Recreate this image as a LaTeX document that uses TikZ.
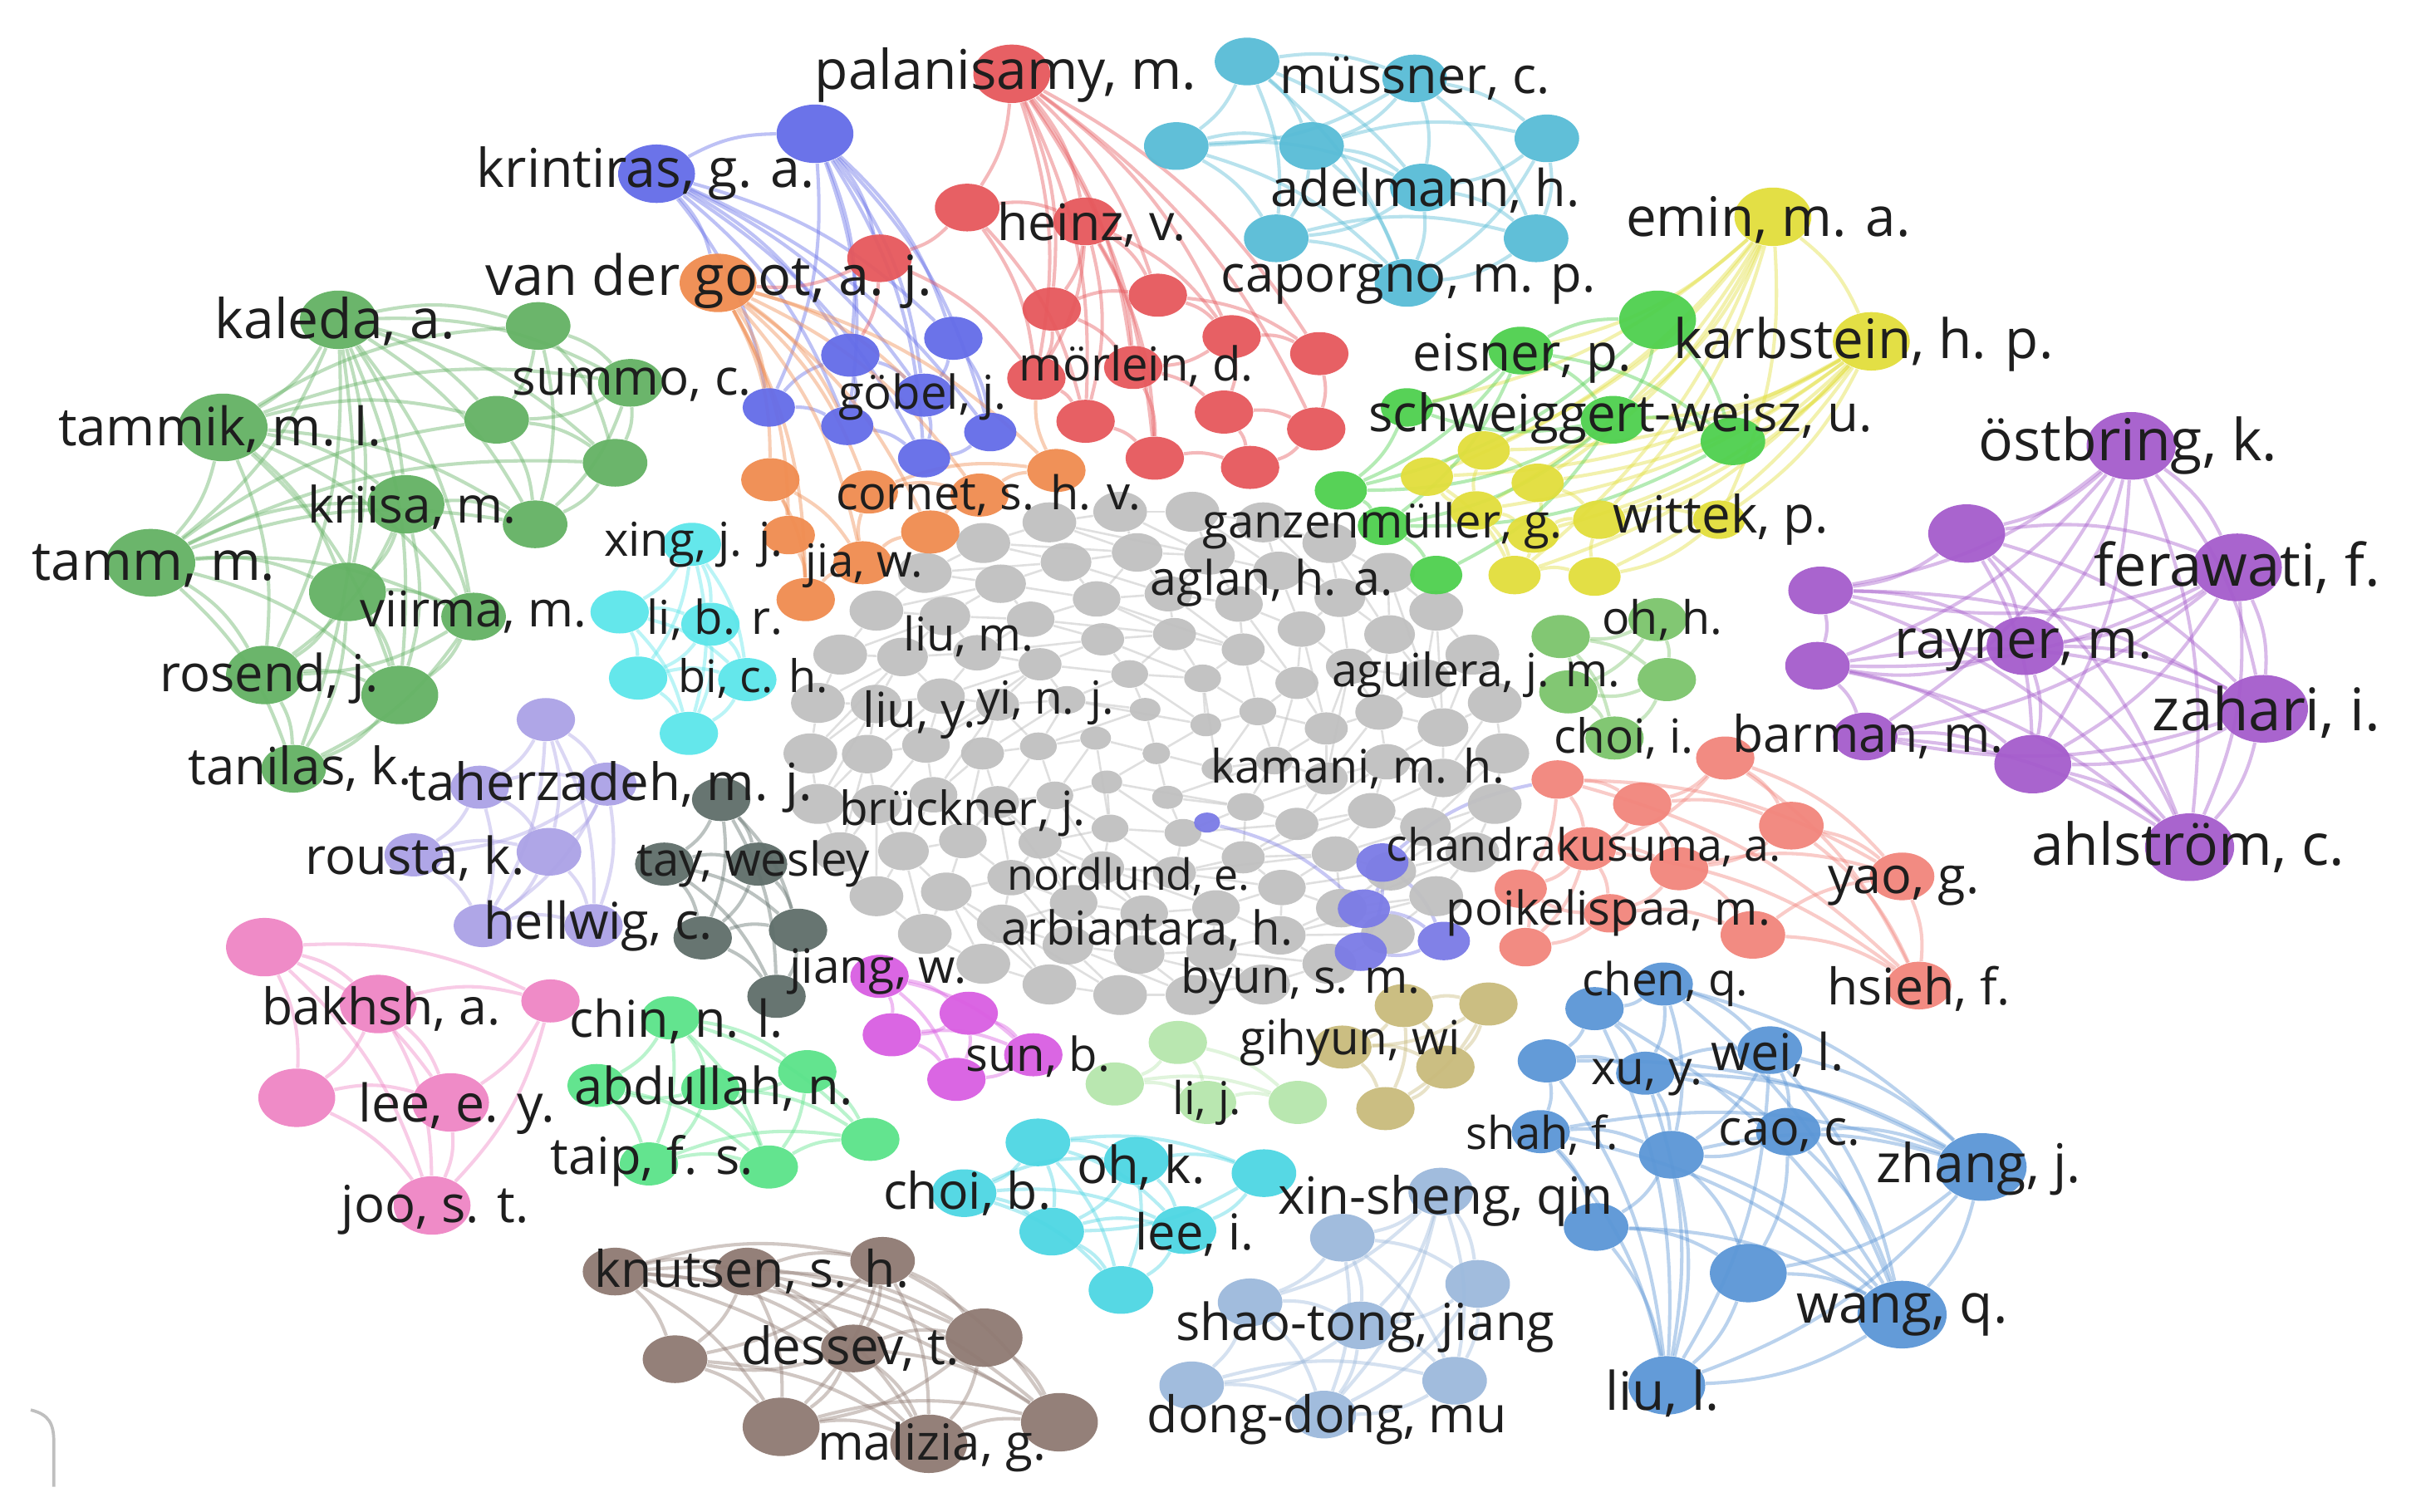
\documentclass[tikz,border=0pt]{standalone}
\usepackage{fontspec}
\setmainfont{Open Sans}
\usetikzlibrary{shapes.geometric}
\pgfdeclarelayer{bg}
\pgfdeclarelayer{paper}
\pgfsetlayers{paper,bg,main}
\definecolor{cG}{RGB}{100,178,100}
\definecolor{cB}{RGB}{100,108,232}
\definecolor{cO}{RGB}{240,140,80}
\definecolor{cR}{RGB}{230,88,92}
\definecolor{cE}{RGB}{88,188,214}
\definecolor{cY}{RGB}{226,222,60}
\definecolor{cGG}{RGB}{78,208,78}
\definecolor{cH}{RGB}{124,196,108}
\definecolor{cI}{RGB}{165,92,204}
\definecolor{cJ}{RGB}{242,133,124}
\definecolor{cK}{RGB}{123,123,230}
\definecolor{cL}{RGB}{91,150,214}
\definecolor{cM}{RGB}{156,185,220}
\definecolor{cN}{RGB}{77,214,227}
\definecolor{cBr}{RGB}{143,122,114}
\definecolor{cP}{RGB}{239,133,196}
\definecolor{cQ}{RGB}{171,162,230}
\definecolor{cS}{RGB}{95,110,106}
\definecolor{cMg}{RGB}{217,94,226}
\definecolor{cT}{RGB}{182,230,172}
\definecolor{cU}{RGB}{201,187,124}
\definecolor{cV}{RGB}{92,230,234}
\definecolor{cW}{RGB}{91,227,138}
\definecolor{cGr}{RGB}{192,192,192}
\definecolor{txt}{RGB}{30,30,30}
\tikzset{
  nd/.style={ellipse, draw=none, fill=#1, inner sep=0pt, fill opacity=0.95},
  s1/.style={minimum width=13pt, minimum height=10pt},
  s2/.style={minimum width=17pt, minimum height=12.5pt},
  s2h/.style={minimum width=19pt, minimum height=14pt},
  s3/.style={minimum width=21pt, minimum height=15.5pt},
  s4/.style={minimum width=25pt, minimum height=19pt},
  s5/.style={minimum width=29pt, minimum height=22pt},
  ed/.style={draw=#1, line width=1.1pt, draw opacity=0.42, bend left=14},
  edg/.style={draw=cGr, line width=0.7pt, draw opacity=0.5},
  lb/.style={font=\fontsize{#1}{#1}\selectfont, text=txt, inner sep=0pt}
}
\begin{document}
\begin{tikzpicture}[x=0.5pt,y=-0.5pt]
\begin{pgfonlayer}{paper}
\fill[white] (0,0) rectangle (1568,983);
\end{pgfonlayer}
\useasboundingbox (0,0) rectangle (1568,983);

% ---------------- gray central cluster
\foreach \kk/\nn/\aa/\bb/\ww/\hh/\oo in {1/30/225/158/17.5/13/0, 2/25/188/131/16.5/12.5/7, 3/20/150/104/15.5/11.5/3, 4/15/113/78/14/10.5/12, 5/10/77/53/12/9/5, 6/6/42/29/10/7.5/20}{
  \foreach \ii in {1,...,\nn}{
    \node[nd=cGr, minimum width=\ww pt, minimum height=\hh pt] (gr-\kk-\ii) at ({752+\aa*cos(\ii*360/\nn+\oo)},{490+\bb*sin(\ii*360/\nn+\oo)}) {};
  }
}
\node[nd=cGr, minimum width=9pt, minimum height=7pt] (gr-7-1) at (752,490) {};

% ---------------- dark green
\node[nd=cG,s4] (kal) at (220,208) {};
\node[nd=cG,s3] (gA) at (350,212) {};
\node[nd=cG,s3] (sum) at (410,249) {};
\node[nd=cG,s3] (gB) at (323,273) {};
\node[nd=cG,s3] (gC) at (400,301) {};
\node[nd=cG,s3] (gD) at (348,341) {};
\node[nd=cG,s5] (tmk) at (145,278) {};
\node[nd=cG,s4] (kri) at (264,328) {};
\node[nd=cG,s5] (tam) at (98,366) {};
\node[nd=cG,s4] (gE) at (226,385) {};
\node[nd=cG,s3] (vii) at (308,401) {};
\node[nd=cG,s4] (ros) at (172,439) {};
\node[nd=cG,s4] (gF) at (260,452) {};
\node[nd=cG,s3] (tan) at (191,500) {};
% ---------------- blue
\node[nd=cB,s4] (krn) at (427,113) {};
\node[nd=cB,s4] (bT) at (530,87) {};
\node[nd=cB,s2] (bA3) at (500,265) {};
\node[nd=cB,s2h] (bA4) at (553,231) {};
\node[nd=cB,s2h] (bA5) at (620,220) {};
\node[nd=cB,s2h] (gob) at (601,257) {};
\node[nd=cB,s2] (bA7) at (551,277) {};
\node[nd=cB,s2] (bA8) at (644,281) {};
\node[nd=cB,s2] (bA9) at (601,298) {};
% ---------------- orange
\node[nd=cO,s4] (vdg) at (467,184) {};
\node[nd=cO,s2h] (oA) at (501,312) {};
\node[nd=cO,s2] (oB) at (513,348) {};
\node[nd=cO,s2h] (oC) at (524,390) {};
\node[nd=cO,s2h] (jia) at (561,366) {};
\node[nd=cO,s2h] (oD) at (605,346) {};
\node[nd=cO,s2h] (oE) at (565,320) {};
\node[nd=cO,s2h] (cor) at (637,322) {};
\node[nd=cO,s2h] (oF) at (687,306) {};
% ---------------- red
\node[nd=cR,s4] (pal) at (658,48) {};
\node[nd=cR,s3] (rA) at (629,135) {};
\node[nd=cR,s3] (hei) at (706,144) {};
\node[nd=cR,s3] (rB) at (572,168) {};
\node[nd=cR,s2h] (rC) at (684,201) {};
\node[nd=cR,s2h] (rD) at (753,192) {};
\node[nd=cR,s2h] (rE) at (801,219) {};
\node[nd=cR,s2h] (rF) at (858,230) {};
\node[nd=cR,s2h] (mor) at (737,239) {};
\node[nd=cR,s2h] (rG) at (674,246) {};
\node[nd=cR,s2h] (rH) at (706,274) {};
\node[nd=cR,s2h] (rI) at (796,268) {};
\node[nd=cR,s2h] (rJ) at (856,279) {};
\node[nd=cR,s2h] (rK) at (751,298) {};
\node[nd=cR,s2h] (rL) at (813,304) {};
% ---------------- light blue top
\node[nd=cE,s3] (eA) at (811,40) {};
\node[nd=cE,s3] (mus) at (920,51) {};
\node[nd=cE,s3] (eB) at (765,95) {};
\node[nd=cE,s3] (eC) at (853,95) {};
\node[nd=cE,s3] (eD) at (1006,90) {};
\node[nd=cE,s3] (ade) at (925,122) {};
\node[nd=cE,s3] (eE) at (830,155) {};
\node[nd=cE,s3] (eF) at (999,155) {};
\node[nd=cE,s3] (cap) at (915,184) {};
% ---------------- yellow
\node[nd=cY,s4] (emi) at (1153,141) {};
\node[nd=cY,s4] (kar) at (1217,222) {};
\node[nd=cY,s2] (yA) at (928,310) {};
\node[nd=cY,s2] (yB) at (965,293) {};
\node[nd=cY,s2] (yC) at (1000,314) {};
\node[nd=cY,s2] (yD) at (997,347) {};
\node[nd=cY,s2] (yE) at (1040,338) {};
\node[nd=cY,s2] (yF) at (985,374) {};
\node[nd=cY,s2] (yG) at (1037,375) {};
\node[nd=cY,s2] (yH) at (960,332) {};
\node[nd=cY,s2] (wit) at (1118,338) {};
% ---------------- bright green
\node[nd=cGG,s3] (eis) at (989,228) {};
\node[nd=cGG,s4] (gX) at (1078,208) {};
\node[nd=cGG,s3] (sch) at (1049,273) {};
\node[nd=cGG,s3] (gY) at (1127,287) {};
\node[nd=cGG,s2] (gZ) at (915,265) {};
\node[nd=cGG,s2] (gW) at (872,319) {};
\node[nd=cGG,s2] (gan) at (900,342) {};
\node[nd=cGG,s2] (gV) at (934,374) {};
% ---------------- olive green
\node[nd=cH,s2h] (ohh) at (1078,403) {};
\node[nd=cH,s2h] (hA) at (1015,414) {};
\node[nd=cH,s2h] (hB) at (1084,442) {};
\node[nd=cH,s2h] (hC) at (1020,450) {};
\node[nd=cH,s2h] (chi) at (1050,480) {};
% ---------------- purple
\node[nd=cI,s5] (ost) at (1386,290) {};
\node[nd=cI,s4] (iA) at (1279,347) {};
\node[nd=cI,s5] (fer) at (1455,369) {};
\node[nd=cI,s3] (iB) at (1184,384) {};
\node[nd=cI,s4] (ray) at (1317,420) {};
\node[nd=cI,s3] (iC) at (1182,433) {};
\node[nd=cI,s5] (zah) at (1472,461) {};
\node[nd=cI,s3] (bar) at (1213,479) {};
\node[nd=cI,s4] (iD) at (1322,497) {};
\node[nd=cI,s5] (ahl) at (1424,551) {};
% ---------------- salmon
\node[nd=cJ,s2h] (jA) at (1122,493) {};
\node[nd=cJ,s2] (jB) at (1013,507) {};
\node[nd=cJ,s2h] (jC) at (1068,523) {};
\node[nd=cJ,s3] (jD) at (1165,537) {};
\node[nd=cJ,s2h] (cha) at (1032,552) {};
\node[nd=cJ,s2h] (jE) at (1092,565) {};
\node[nd=cJ,s2] (poi) at (1047,594) {};
\node[nd=cJ,s3] (jF) at (1140,608) {};
\node[nd=cJ,s3] (yao) at (1237,570) {};
\node[nd=cJ,s3] (hsi) at (1248,641) {};
\node[nd=cJ,s2] (jG) at (989,578) {};
\node[nd=cJ,s2] (jH) at (992,616) {};
% ---------------- blue-purple small
\node[nd=cK,s2] (kA) at (899,561) {};
\node[nd=cK,s2] (kB) at (887,591) {};
\node[nd=cK,s2] (kC) at (939,612) {};
\node[nd=cK,s2] (kD) at (885,619) {};
\node[nd=cK,minimum width=8.5pt,minimum height=6.5pt] (kT) at (785,535) {};
% ---------------- steel blue
\node[nd=cL,s2h] (chq) at (1082,640) {};
\node[nd=cL,s2h] (lA) at (1037,656) {};
\node[nd=cL,s2h] (lB) at (1006,690) {};
\node[nd=cL,s2h] (xuy) at (1070,698) {};
\node[nd=cL,s3] (wei) at (1151,683) {};
\node[nd=cL,s2h] (sha) at (1002,736) {};
\node[nd=cL,s3] (cao) at (1163,736) {};
\node[nd=cL,s3] (lC) at (1087,751) {};
\node[nd=cL,s5] (zha) at (1289,759) {};
\node[nd=cL,s3] (lD) at (1038,798) {};
\node[nd=cL,s4] (lE) at (1137,828) {};
\node[nd=cL,s5] (wan) at (1237,855) {};
\node[nd=cL,s4] (liu) at (1084,901) {};
% ---------------- light steel blue
\node[nd=cM,s3] (xin) at (937,775) {};
\node[nd=cM,s3] (mA) at (873,805) {};
\node[nd=cM,s3] (mB) at (961,835) {};
\node[nd=cM,s3] (mC) at (813,847) {};
\node[nd=cM,s3] (sht) at (885,862) {};
\node[nd=cM,s3] (mD) at (775,901) {};
\node[nd=cM,s3] (mE) at (946,898) {};
\node[nd=cM,s3] (dd) at (861,920) {};
% ---------------- cyan
\node[nd=cN,s3] (nA) at (675,743) {};
\node[nd=cN,s3] (chb) at (627,776) {};
\node[nd=cN,s3] (ohk) at (739,755) {};
\node[nd=cN,s3] (nB) at (822,763) {};
\node[nd=cN,s3] (nC) at (684,801) {};
\node[nd=cN,s3] (lei) at (770,800) {};
\node[nd=cN,s3] (nD) at (729,839) {};
% ---------------- brown
\node[nd=cBr,s3] (bA) at (400,827) {};
\node[nd=cBr,s3] (knu) at (486,827) {};
\node[nd=cBr,s3] (bB) at (574,820) {};
\node[nd=cBr,s3] (des) at (555,877) {};
\node[nd=cBr,s4] (bC) at (640,870) {};
\node[nd=cBr,s3] (bD) at (439,884) {};
\node[nd=cBr,s4] (bE) at (508,928) {};
\node[nd=cBr,s4] (mal) at (604,939) {};
\node[nd=cBr,s4] (bF) at (689,925) {};
% ---------------- pink
\node[nd=cP,s4] (pA) at (172,616) {};
\node[nd=cP,s4] (bak) at (246,653) {};
\node[nd=cP,s2h] (pB) at (358,651) {};
\node[nd=cP,s4] (pC) at (193,714) {};
\node[nd=cP,s4] (lee) at (293,717) {};
\node[nd=cP,s4] (joo) at (281,784) {};
% ---------------- lavender
\node[nd=cQ,s2h] (qA) at (355,468) {};
\node[nd=cQ,s2h] (qB) at (312,512) {};
\node[nd=cQ,s2h] (thz) at (395,510) {};
\node[nd=cQ,s2h] (rou) at (269,556) {};
\node[nd=cQ,s3] (qC) at (357,554) {};
\node[nd=cQ,s2h] (qD) at (314,602) {};
\node[nd=cQ,s2h] (hel) at (386,602) {};
% ---------------- dark slate
\node[nd=cS,s2h] (sA) at (469,520) {};
\node[nd=cS,s2h] (sB) at (432,562) {};
\node[nd=cS,s2h] (tay) at (493,562) {};
\node[nd=cS,s2h] (sC) at (457,610) {};
\node[nd=cS,s2h] (sD) at (519,605) {};
\node[nd=cS,s2h] (sE) at (505,648) {};
% ---------------- magenta
\node[nd=cMg,s2h] (jw) at (572,635) {};
\node[nd=cMg,s2h] (mgA) at (630,659) {};
\node[nd=cMg,s2h] (mgB) at (580,673) {};
\node[nd=cMg,s2h] (sun) at (672,686) {};
\node[nd=cMg,s2h] (mgC) at (622,702) {};
% ---------------- pale green
\node[nd=cT,s2h] (tA) at (766,678) {};
\node[nd=cT,s2h] (tB) at (725,705) {};
\node[nd=cT,s2h] (lij) at (785,717) {};
\node[nd=cT,s2h] (tC) at (844,717) {};
% ---------------- khaki
\node[nd=cU,s2h] (uA) at (913,654) {};
\node[nd=cU,s2h] (uB) at (968,653) {};
\node[nd=cU,s2h] (gih) at (873,681) {};
\node[nd=cU,s2h] (uC) at (940,694) {};
\node[nd=cU,s2h] (uD) at (901,721) {};
% ---------------- teal
\node[nd=cV,s2h] (xng) at (450,354) {};
\node[nd=cV,s2h] (vA) at (403,398) {};
\node[nd=cV,s2h] (lib) at (462,406) {};
\node[nd=cV,s2h] (vB) at (415,441) {};
\node[nd=cV,s2h] (bic) at (486,442) {};
\node[nd=cV,s2h] (vC) at (448,477) {};
% ---------------- emerald
\node[nd=cW,s2h] (chn) at (436,662) {};
\node[nd=cW,s2h] (wA) at (525,697) {};
\node[nd=cW,s2h] (abd) at (462,708) {};
\node[nd=cW,s2h] (wB) at (388,706) {};
\node[nd=cW,s2h] (tai) at (422,757) {};
\node[nd=cW,s2h] (wC) at (500,759) {};
\node[nd=cW,s2h] (wD) at (566,741) {};

% ================= edges
\begin{pgfonlayer}{bg}
\foreach \kk/\nn/\mm in {1/30/25, 2/25/20, 3/20/15, 4/15/10, 5/10/6}{
  \foreach \ii in {1,...,\nn}{
    \pgfmathtruncatemacro\nx{mod(\ii,\nn)+1}
    \pgfmathtruncatemacro\jj{mod(round(\ii*\mm/\nn)-1+\mm,\mm)+1}
    \pgfmathtruncatemacro\jk{mod(\jj,\mm)+1}
    \pgfmathtruncatemacro\kn{\kk+1}
    \draw[edg] (gr-\kk-\ii) -- (gr-\kk-\nx);
    \draw[edg] (gr-\kk-\ii) -- (gr-\kn-\jj);
    \draw[edg] (gr-\kk-\ii) -- (gr-\kn-\jk);
  }
}
\foreach \ii in {1,...,6} \draw[edg] (gr-6-\ii) -- (gr-7-1);

\foreach \u/\v in {kal/gA, kal/sum, kal/gB, kal/gC, kal/gD, kal/tmk, kal/kri, kal/tam, kal/gE, kal/vii, kal/ros, kal/gF, kal/tan, tmk/gA, tmk/gB, tmk/kri, tmk/tam, tmk/gE, tmk/vii, tmk/ros, tmk/gF, tmk/gD, tmk/sum, tam/kri, tam/gE, tam/vii, tam/ros, tam/gF, tam/tan, tam/gB, tam/gD, tam/gC, kri/gE, kri/vii, kri/ros, kri/gF, kri/gD, gA/sum, gA/gB, gA/gC, gA/gD, sum/gB, sum/gC, sum/gD, gB/gC, gB/gD, gC/gD, gE/vii, gE/ros, gE/gF, gE/tan, vii/ros, vii/gF, vii/tan, ros/gF, ros/tan, gF/tan}
  \draw[ed=cG] (\u) to (\v);
\foreach \u/\v in {krn/bT, krn/bA3, krn/bA4, krn/bA5, krn/gob, krn/bA7, krn/bA8, krn/bA9, bT/bA3, bT/bA4, bT/bA5, bT/gob, bT/bA7, bT/bA8, bT/bA9, bA4/gob, bA4/bA7, bA5/gob, bA5/bA8, gob/bA9, bA7/bA9, bA8/bA9, bA3/bA7, bA3/bA4, krn/vdg, bT/rB}
  \draw[ed=cB] (\u) to (\v);
\foreach \u/\v in {vdg/oA, vdg/oB, vdg/oC, vdg/jia, vdg/oD, vdg/oE, vdg/cor, vdg/oF, oA/oB, oA/oC, oB/oC, oC/jia, jia/oD, jia/oE, oE/cor, oD/cor, cor/oF, oE/oF, oA/jia, vdg/bA3, vdg/gob, vdg/bA7, oF/rG}
  \draw[ed=cO] (\u) to (\v);
\foreach \u/\v in {pal/rA, pal/hei, pal/rC, pal/rD, pal/rE, pal/rF, pal/mor, pal/rG, pal/rH, pal/rK, pal/rJ, rA/rB, rA/hei, rA/rG, rA/rH, rB/rG, hei/rC, hei/rD, hei/mor, hei/rG, hei/rE, hei/rK, hei/rH, rC/rD, rC/mor, rC/rG, rD/rE, rE/rF, rE/mor, rE/rI, rF/rJ, mor/rI, mor/rK, rG/rH, rH/rK, rI/rL, rJ/rL, rK/rL, rI/rJ, rD/rF, rB/vdg, rB/bA4}
  \draw[ed=cR] (\u) to (\v);
\foreach \u/\v in {eA/mus, eA/eB, eA/eC, eA/ade, eA/eE, eA/cap, mus/eC, mus/eD, mus/ade, mus/eF, mus/eB, eB/eC, eB/eE, eB/ade, eB/cap, eC/ade, eC/eE, eC/cap, eC/eD, eD/ade, eD/eF, eD/cap, ade/eE, ade/eF, ade/cap, eE/cap, eF/cap, eE/eF}
  \draw[ed=cE] (\u) to (\v);
\foreach \u/\v in {emi/kar, emi/yA, emi/yB, emi/yC, emi/yE, emi/wit, emi/yF, emi/yH, emi/eis, emi/sch, emi/gZ, kar/yA, kar/yB, kar/yC, kar/yD, kar/yE, kar/wit, kar/yG, kar/yF, kar/yH, kar/sch, kar/gY, yA/yB, yB/yC, yC/yD, yD/yE, yE/wit, yD/yF, yF/yG, yG/yE, yA/yF, yC/yE, wit/yG, yH/yA, yH/yB, yH/yD, yH/yF}
  \draw[ed=cY] (\u) to (\v);
\foreach \u/\v in {eis/gX, eis/sch, eis/gY, eis/gZ, eis/gW, eis/gan, gX/sch, gX/gY, sch/gY, sch/gZ, sch/gW, sch/gan, sch/gV, gZ/gW, gW/gan, gan/gV, gY/gan, gX/gW}
  \draw[ed=cGG] (\u) to (\v);
\foreach \u/\v in {ohh/hA, ohh/hB, ohh/hC, hA/hB, hA/hC, hB/hC, hB/chi, hC/chi, hA/chi}
  \draw[ed=cH] (\u) to (\v);
\foreach \u/\v in {ost/iA, ost/fer, ost/iB, ost/ray, ost/iC, ost/zah, ost/bar, ost/iD, ost/ahl, iA/fer, iA/iB, iA/ray, iA/zah, iA/iD, iA/ahl, fer/ray, fer/iB, fer/iC, fer/zah, fer/iD, fer/ahl, fer/bar, iB/iC, iB/ray, iB/zah, iB/ahl, ray/iC, ray/zah, ray/iD, ray/ahl, iC/bar, iC/zah, iC/ahl, zah/bar, zah/iD, zah/ahl, bar/iD, bar/ahl, iD/ahl, iC/iD}
  \draw[ed=cI] (\u) to (\v);
\foreach \u/\v in {jA/jC, jA/jD, jA/cha, jA/yao, jA/hsi, jB/jC, jB/cha, jB/jG, jC/cha, jC/jD, jC/jE, jD/jE, jD/yao, jD/hsi, cha/jE, cha/poi, cha/jG, cha/jH, jE/poi, jE/jF, jE/yao, poi/jF, poi/jG, poi/jH, jF/hsi, jF/yao, yao/hsi, jG/jH, jB/yao, cha/hsi, jB/hsi}
  \draw[ed=cJ] (\u) to (\v);
\foreach \u/\v in {kA/kB, kA/kC, kA/kD, kB/kC, kB/kD, kC/kD, kT/kB, kA/jB}
  \draw[ed=cK] (\u) to (\v);
\foreach \u/\v in {chq/lA, chq/xuy, chq/wei, chq/zha, chq/lC, chq/wan, lA/lB, lA/xuy, lA/wan, lB/xuy, lB/sha, lB/liu, lB/zha, xuy/wei, xuy/lC, xuy/cao, xuy/liu, xuy/zha, wei/cao, wei/lC, wei/zha, wei/wan, wei/liu, sha/lC, sha/lD, sha/zha, sha/wan, cao/lC, cao/lE, cao/zha, cao/wan, lC/lD, lC/lE, lC/wan, lC/zha, lC/liu, zha/wan, zha/lE, zha/liu, lD/lE, lD/liu, lD/wan, lE/wan, lE/liu, wan/liu, sha/liu, lA/liu}
  \draw[ed=cL] (\u) to (\v);
\foreach \u/\v in {xin/mA, xin/mB, xin/sht, xin/mE, xin/dd, xin/mC, mA/mB, mA/mC, mA/sht, mA/mE, mA/dd, mB/sht, mB/mE, mB/dd, mC/sht, mC/mD, mC/dd, sht/mD, sht/mE, sht/dd, mD/dd, mE/dd, mD/mE}
  \draw[ed=cM] (\u) to (\v);
\foreach \u/\v in {nA/chb, nA/ohk, nA/nB, nA/nC, nA/lei, nA/nD, chb/ohk, chb/nC, chb/lei, chb/nD, ohk/nB, ohk/nC, ohk/lei, ohk/nD, nB/nC, nB/lei, nC/lei, nC/nD, lei/nD}
  \draw[ed=cN] (\u) to (\v);
\foreach \u/\v in {bA/knu, bA/bB, bA/des, bA/bC, bA/bD, bA/bE, bA/mal, bA/bF, knu/bB, knu/des, knu/bC, knu/bD, knu/bE, knu/mal, knu/bF, bB/des, bB/bC, bB/bD, bB/bE, bB/mal, bB/bF, des/bC, des/bD, des/bE, des/mal, des/bF, bC/bE, bC/mal, bC/bF, bD/bE, bD/mal, bE/mal, bE/bF, mal/bF}
  \draw[ed=cBr] (\u) to (\v);
\foreach \u/\v in {pA/bak, pA/pB, pA/pC, pA/lee, pA/joo, bak/pB, bak/pC, bak/lee, bak/joo, pB/lee, pB/joo, pC/lee, pC/joo, lee/joo}
  \draw[ed=cP] (\u) to (\v);
\foreach \u/\v in {qA/qB, qA/thz, qA/qC, qA/hel, qA/qD, qB/thz, qB/rou, qB/qC, qB/qD, thz/qC, thz/hel, thz/rou, thz/qD, rou/qC, rou/qD, qC/qD, qC/hel, qD/hel}
  \draw[ed=cQ] (\u) to (\v);
\foreach \u/\v in {sA/sB, sA/tay, sA/sC, sA/sD, sA/sE, sB/tay, sB/sC, sB/sD, sB/sE, tay/sC, tay/sD, sC/sD, sC/sE, sD/sE}
  \draw[ed=cS] (\u) to (\v);
\foreach \u/\v in {jw/mgA, jw/mgB, jw/sun, jw/mgC, mgA/mgB, mgA/sun, mgA/mgC, mgB/mgC, mgB/sun, sun/mgC}
  \draw[ed=cMg] (\u) to (\v);
\foreach \u/\v in {tA/tB, tA/lij, tA/tC, tB/lij, lij/tC, tB/tC}
  \draw[ed=cT] (\u) to (\v);
\foreach \u/\v in {uA/uB, uA/gih, uA/uC, uA/uD, uB/uC, uB/uD, gih/uC, gih/uD, uC/uD, uB/gih}
  \draw[ed=cU] (\u) to (\v);
\foreach \u/\v in {xng/vA, xng/lib, xng/vB, xng/bic, xng/vC, vA/lib, vA/vB, vA/bic, vA/vC, lib/vB, lib/bic, lib/vC, vB/bic, vB/vC, bic/vC}
  \draw[ed=cV] (\u) to (\v);
\foreach \u/\v in {chn/wA, chn/abd, chn/wB, chn/tai, chn/wC, chn/wD, wA/abd, wA/wC, wA/wD, abd/wB, abd/tai, abd/wC, abd/wD, wB/tai, wB/wC, tai/wC, wC/wD, tai/wD}
  \draw[ed=cW] (\u) to (\v);
\end{pgfonlayer}

% ================= labels
\node[lb=17.8] (L-kal) at (218,209) {kaleda, a.};
\node[lb=16.2] (L-sum) at (411,250) {summo, c.};
\node[lb=17.2] (L-tmk) at (143,279) {tammik, m. l.};
\node[lb=16.3] (L-kri) at (268,330) {kriisa, m.};
\node[lb=17.7] (L-tam) at (100,368) {tamm, m.};
\node[lb=16.0] (L-vii) at (308,398) {viirma, m.};
\node[lb=16.6] (L-ros) at (175,441) {rosend, j.};
\node[lb=16.7] (L-tan) at (195,500) {tanilas, k.};
\node[lb=17.4] (L-krn) at (420,113) {krintiras, g. a.};
\node[lb=15.2] (L-gob) at (600,258) {göbel, j.};
\node[lb=18.0] (L-vdg) at (461,183) {van der goot, a. j.};
\node[lb=15.1] (L-cor) at (643,322) {cornet, s. h. v.};
\node[lb=14.8] (L-jia) at (562,368) {jia, w.};
\node[lb=17.8] (L-pal) at (654,49) {palanisamy, m.};
\node[lb=16.4] (L-hei) at (710,146) {heinz, v.};
\node[lb=15.2] (L-mor) at (739,238) {mörlein, d.};
\node[lb=16.5] (L-mus) at (920,51) {müssner, c.};
\node[lb=16.5] (L-ade) at (927,124) {adelmann, h.};
\node[lb=16.6] (L-cap) at (916,185) {caporgno, m. p.};
\node[lb=17.7] (L-emi) at (1150,143) {emin, m. a.};
\node[lb=17.7] (L-kar) at (1212,224) {karbstein, h. p.};
\node[lb=16.7] (L-wit) at (1119,338) {wittek, p.};
\node[lb=16.7] (L-eis) at (990,233) {eisner, p.};
\node[lb=16.7] (L-sch) at (1054,272) {schweiggert-weisz, u.};
\node[lb=15.2] (L-gan) at (899,342) {ganzenmüller, g.};
\node[lb=15.0] (L-ohh) at (1081,403) {oh, h.};
\node[lb=15.3] (L-chi) at (1056,480) {choi, i.};
\node[lb=18.8] (L-ost) at (1384,290) {östbring, k.};
\node[lb=19.0] (L-fer) at (1455,369) {ferawati, f.};
\node[lb=17.7] (L-ray) at (1316,423) {rayner, m.};
\node[lb=19.1] (L-zah) at (1474,463) {zahari, i.};
\node[lb=16.4] (L-bar) at (1215,479) {barman, m.};
\node[lb=18.8] (L-ahl) at (1423,551) {ahlström, c.};
\node[lb=14.5] (L-cha) at (1030,551) {chandrakusuma, a.};
\node[lb=15.2] (L-poi) at (1046,594) {poikelispaa, m.};
\node[lb=16.5] (L-yao) at (1238,576) {yao, g.};
\node[lb=16.4] (L-hsi) at (1248,643) {hsieh, f.};
\node[lb=14.8] (L-chq) at (1083,640) {chen, q.};
\node[lb=15.3] (L-xuy) at (1071,701) {xu, y.};
\node[lb=16.5] (L-wei) at (1156,686) {wei, l.};
\node[lb=14.7] (L-sha) at (1003,738) {shah, f.};
\node[lb=16.0] (L-cao) at (1164,738) {cao, c.};
\node[lb=17.4] (L-zha) at (1287,760) {zhang, j.};
\node[lb=17.7] (L-wan) at (1237,855) {wang, q.};
\node[lb=17.3] (L-liu) at (1081,906) {liu, l.};
\node[lb=16.7] (L-xin) at (940,781) {xin-sheng, qin};
\node[lb=16.6] (L-sht) at (888,863) {shao-tong, jiang};
\node[lb=16.4] (L-dd) at (863,923) {dong-dong, mu};
\node[lb=16.4] (L-chb) at (629,776) {choi, b.};
\node[lb=16.6] (L-ohk) at (742,759) {oh, k.};
\node[lb=16.1] (L-lei) at (777,803) {lee, i.};
\node[lb=16.4] (L-knu) at (489,827) {knutsen, s. h.};
\node[lb=16.7] (L-des) at (553,877) {dessev, t.};
\node[lb=16.2] (L-mal) at (606,941) {malizia, g.};
\node[lb=16.4] (L-bak) at (248,656) {bakhsh, a.};
\node[lb=16.9] (L-lee) at (297,721) {lee, e. y.};
\node[lb=16.6] (L-joo) at (283,787) {joo, s. t.};
\node[lb=16.7] (L-thz) at (397,512) {taherzadeh, m. j.};
\node[lb=16.6] (L-rou) at (270,558) {rousta, k.};
\node[lb=16.5] (L-hel) at (389,602) {hellwig, c.};
\node[lb=15.2] (L-tay) at (490,562) {tay, wesley};
\node[lb=15.4] (L-jw) at (571,632) {jiang, w.};
\node[lb=15.2] (L-sun) at (675,687) {sun, b.};
\node[lb=14.7] (L-lij) at (785,717) {li, j.};
\node[lb=15.3] (L-gih) at (878,678) {gihyun, wi};
\node[lb=15.2] (L-xng) at (451,354) {xing, j. j.};
\node[lb=15.2] (L-lib) at (465,403) {li, b. r.};
\node[lb=14.6] (L-bic) at (490,441) {bi, c. h.};
\node[lb=16.5] (L-chn) at (440,664) {chin, n. l.};
\node[lb=16.6] (L-abd) at (464,708) {abdullah, n.};
\node[lb=16.6] (L-tai) at (424,755) {taip, f. s.};
\node[lb=15.5] (L-agl) at (827,379) {aglan, h. a.};
\node[lb=15.1] (L-lim) at (630,414) {liu, m.};
\node[lb=14.9] (L-agu) at (960,439) {aguilera, j. m.};
\node[lb=15.7] (L-liy) at (598,465) {liu, y.};
\node[lb=14.8] (L-yi) at (680,457) {yi, n. j.};
\node[lb=15.0] (L-kam) at (883,500) {kamani, m. h.};
\node[lb=15.3] (L-bru) at (626,529) {brückner, j.};
\node[lb=14.0] (L-nor) at (734,570) {nordlund, e.};
\node[lb=15.2] (L-arb) at (746,605) {arbiantara, h.};
\node[lb=15.2] (L-byu) at (846,638) {byun, s. m.};

% corner artifact
\draw[black!25, line width=1pt] (20,917) .. controls (32,920) and (35,926) .. (35,938) -- (35,967);
\end{tikzpicture}
\end{document}
